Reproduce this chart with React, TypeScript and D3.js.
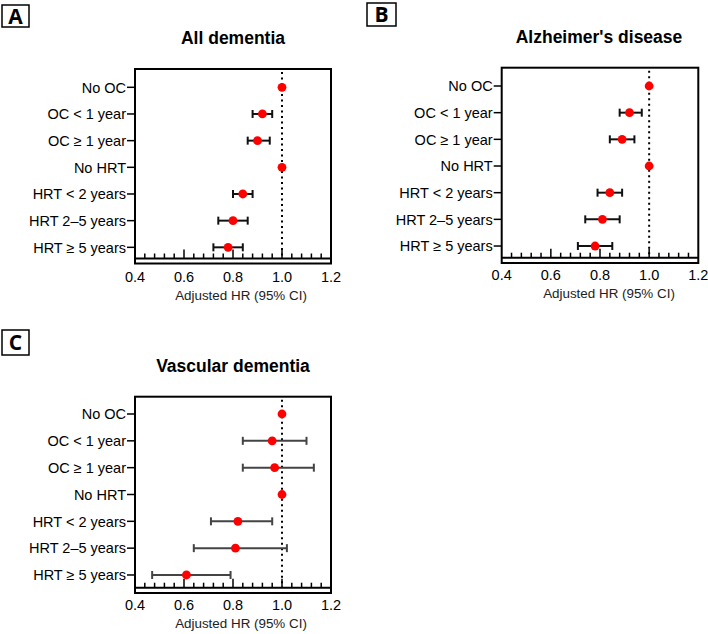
import React from "react";
import * as d3 from "d3";

const labels = ["No OC", "OC < 1 year", "OC ≥ 1 year", "No HRT", "HRT < 2 years", "HRT 2–5 years", "HRT ≥ 5 years"];

const hrA = [1.0, 0.92, 0.9, 1.0, 0.84, 0.8, 0.78];
const lowA = [null, 0.88, 0.86, null, 0.8, 0.74, 0.72];
const highA = [null, 0.96, 0.95, null, 0.88, 0.86, 0.84];

const hrB = [1.0, 0.92, 0.89, 1.0, 0.84, 0.81, 0.78];
const lowB = [null, 0.88, 0.84, null, 0.79, 0.74, 0.71];
const highB = [null, 0.97, 0.94, null, 0.89, 0.88, 0.85];

const hrC = [1.0, 0.96, 0.97, 1.0, 0.82, 0.81, 0.61];
const lowC = [null, 0.84, 0.84, null, 0.71, 0.64, 0.47];
const highC = [null, 1.1, 1.13, null, 0.96, 1.02, 0.79];

const xDomain = [0.4, 1.2];
const tickLabels = [0.4, 0.6, 0.8, 1.0, 1.2];
const minorTicks = d3.range(11, 30).map((i) => i * 0.04);

const titles = ["All dementia", "Alzheimer's disease", "Vascular dementia"];
const letters = ["A", "B", "C"];
const axisTitle = "Adjusted HR (95% CI)";

const FONT = "'Liberation Sans', Arial, sans-serif";

type PanelProps = {
  letter: string;
  title: string;
  hr: number[];
  low: (number | null)[];
  high: (number | null)[];
  left: number;
  right: number;
  top: number;
  axisY: number;
  bottom: number;
  row0: number;
  rowStep: number;
  titleX: number;
  titleY: number;
  tickLabelY: number;
  axisTitleX: number;
  axisTitleY: number;
  letterBox: [number, number, number, number];
  barColor: string;
};

function Panel(p: PanelProps) {
  const x = d3.scaleLinear().domain(xDomain).range([p.left, p.right]);
  const y = d3
    .scalePoint<string>()
    .domain(labels)
    .range([p.row0, p.row0 + p.rowStep * (labels.length - 1)]);
  const [lx, ly, lw, lh] = p.letterBox;
  const isMajor = (v: number) => Math.abs(v / 0.2 - Math.round(v / 0.2)) < 1e-6;
  return (
    <g>
      <rect x={lx} y={ly} width={lw} height={lh} fill="white" stroke="black" strokeWidth={1.5} />
      <text
        x={lx + lw / 2}
        y={ly + lh / 2 + 7.5}
        textAnchor="middle"
        fontFamily="'Open Sans', 'DejaVu Sans', sans-serif"
        fontWeight="bold"
        fontSize={21}
      >
        {p.letter}
      </text>
      <text x={p.titleX} y={p.titleY} textAnchor="middle" fontFamily={FONT} fontWeight="bold" fontSize={17.5}>
        {p.title}
      </text>
      {/* frame */}
      <rect x={p.left} y={p.top} width={p.right - p.left} height={p.bottom - p.top} fill="none" stroke="black" strokeWidth={2} />
      {/* reference line */}
      <line
        x1={x(1)}
        x2={x(1)}
        y1={p.top + 3}
        y2={p.axisY}
        stroke="black"
        strokeWidth={2}
        strokeDasharray="2,3.5"
      />
      {/* x axis line */}
      <line x1={p.left} x2={p.right} y1={p.axisY} y2={p.axisY} stroke="black" strokeWidth={2} />
      {minorTicks.map((v, i) => (
        <line
          key={i}
          x1={x(v)}
          x2={x(v)}
          y1={p.axisY}
          y2={p.axisY - (isMajor(v) ? 9 : 5)}
          stroke="black"
          strokeWidth={1.5}
        />
      ))}
      {tickLabels.map((v, i) => (
        <text key={i} x={x(v)} y={p.tickLabelY} textAnchor="middle" fontFamily={FONT} fontSize={14.5}>
          {d3.format(".1f")(v)}
        </text>
      ))}
      <text x={p.axisTitleX} y={p.axisTitleY} textAnchor="middle" fontFamily={FONT} fontSize={13.4} fill="#222">
        {axisTitle}
      </text>
      {/* y axis ticks and labels */}
      {labels.map((l, i) => (
        <g key={l}>
          <line x1={p.left - 8} x2={p.left} y1={y(l)} y2={y(l)} stroke="black" strokeWidth={1.5} />
          <text x={p.left - 9} y={(y(l) as number) + 5.2} textAnchor="end" fontFamily={FONT} fontSize={14.5}>
            {l}
          </text>
        </g>
      ))}
      {/* error bars */}
      {labels.map((l, i) => {
        const lo = p.low[i];
        const hi = p.high[i];
        if (lo == null || hi == null) return null;
        const yy = y(l) as number;
        return (
          <g key={"e" + i} stroke={p.barColor} strokeWidth={2}>
            <line x1={x(lo)} x2={x(hi)} y1={yy} y2={yy} />
            <line x1={x(lo)} x2={x(lo)} y1={yy - 4} y2={yy + 4} />
            <line x1={x(hi)} x2={x(hi)} y1={yy - 4} y2={yy + 4} />
          </g>
        );
      })}
      {labels.map((l, i) => (
        <circle key={"p" + i} cx={x(p.hr[i])} cy={y(l) as number} r={4.4} fill="#ff0000" />
      ))}
    </g>
  );
}

export default function App() {
  return (
    <svg
      width={708}
      height={634}
      style={{ position: "absolute", left: 0, top: 0, background: "white" }}
    >
      <rect x={0} y={0} width={708} height={634} fill="white" />
      <Panel
        letter={letters[0]}
        title={titles[0]}
        hr={hrA}
        low={lowA}
        high={highA}
        left={135}
        right={331}
        top={69}
        axisY={258.5}
        bottom={263.5}
        row0={87.3}
        rowStep={26.67}
        titleX={233}
        titleY={44}
        tickLabelY={281.5}
        axisTitleX={241}
        axisTitleY={300}
        letterBox={[2, 5, 27, 22]}
        barColor="#111"
      />
      <Panel
        letter={letters[1]}
        title={titles[1]}
        hr={hrB}
        low={lowB}
        high={highB}
        left={501.7}
        right={698.3}
        top={67.7}
        axisY={257.7}
        bottom={263}
        row0={86}
        rowStep={26.67}
        titleX={599}
        titleY={43.3}
        tickLabelY={279.5}
        axisTitleX={609}
        axisTitleY={297.5}
        letterBox={[367, 3, 29, 23]}
        barColor="#111"
      />
      <Panel
        letter={letters[2]}
        title={titles[2]}
        hr={hrC}
        low={lowC}
        high={highC}
        left={135}
        right={331}
        top={396.7}
        axisY={587.7}
        bottom={593}
        row0={414}
        rowStep={26.83}
        titleX={233}
        titleY={371.7}
        tickLabelY={609.5}
        axisTitleX={241}
        axisTitleY={628}
        letterBox={[2, 330, 27, 25]}
        barColor="#444"
      />
    </svg>
  );
}
